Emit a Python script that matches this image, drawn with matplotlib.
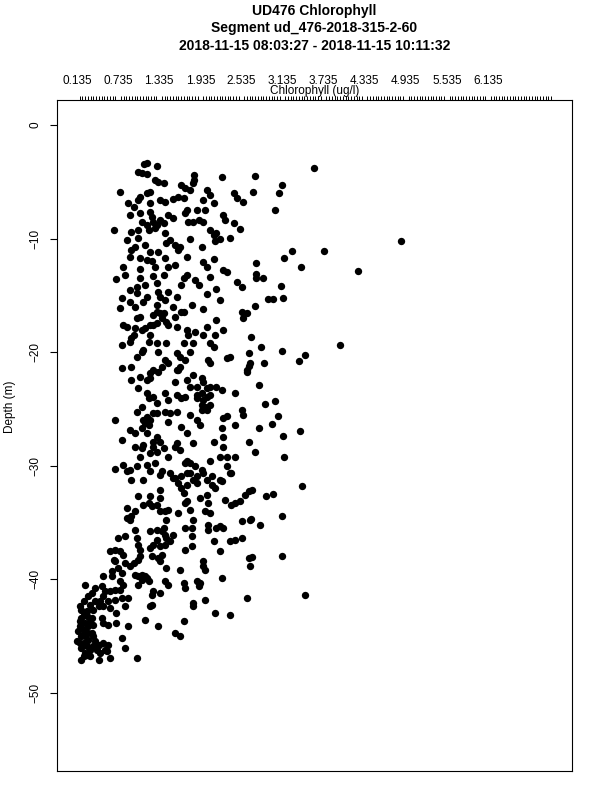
import numpy as np
import matplotlib
matplotlib.use("Agg")
import matplotlib.pyplot as plt

plt.rcParams['font.family'] = ['Liberation Sans', 'DejaVu Sans']

title_lines = ["UD476 Chlorophyll",
               "Segment ud_476-2018-315-2-60",
               "2018-11-15 08:03:27 - 2018-11-15 10:11:32"]
x_label = "Chlorophyll (ug/l)"
y_label = "Depth (m)"
x_tick_values = [0.135, 0.735, 1.335, 1.935, 2.535, 3.135, 3.735, 4.335, 4.935, 5.535, 6.135]
y_tick_values = [0, -10, -20, -30, -40, -50]

# chlorophyll (ug/l) and depth (m), in three depth bands
chl_upper = [1.15, 1.12, 1.30, 1.03, 1.09, 1.15, 1.27, 1.32, 1.40, 1.84,
             1.84, 1.83, 2.25, 0.76, 1.20, 1.15, 1.06, 1.66, 1.71, 1.79,
             2.03, 2.08, 2.42, 2.56, 0.88, 1.03, 0.96, 1.20, 1.35, 1.42,
             1.54, 1.61, 1.69, 1.98, 2.13, 1.74, 1.71, 2.00, 2.27, 0.91,
             1.06, 1.20, 1.35, 1.47, 1.54, 1.08, 1.15, 1.25, 1.40, 1.76,
             1.83, 1.91, 1.98, 2.08, 2.17, 2.30, 2.42, 2.52, 0.67, 0.93,
             1.03, 1.18, 1.27, 1.42, 1.79, 1.96, 2.37, 0.86, 1.03, 1.13,
             1.49, 1.57, 1.61, 0.93, 1.20, 1.32, 1.42, 1.74, 1.98, 2.13,
             2.03, 0.81, 0.91, 1.06, 1.15, 1.23, 1.06, 1.25, 1.40, 1.47,
             1.57, 1.69, 1.74, 1.86, 2.08, 2.27, 2.47, 2.54, 0.71, 0.84,
             1.01, 1.06, 1.13, 1.30, 1.32, 1.47, 1.66, 1.91, 2.03, 2.17,
             2.22, 0.79, 0.91, 1.01, 1.15, 1.35, 1.42, 1.59, 1.81, 1.98,
             0.76, 0.98, 1.30, 1.35, 1.54, 1.66, 2.54,
             1.23, 1.30, 1.64, 1.10, 2.13, 1.44, 0.98, 1.27, 0.91, 1.88,
             2.47, 2.22, 2.15, 2.32,
             3.60, 2.73, 3.12, 3.08, 2.70, 3.03, 4.86, 3.27, 3.74, 3.15,
             3.41, 4.23, 2.75, 2.75, 2.85, 2.75, 3.11, 2.93, 2.99, 3.14,
             2.73]
depth_upper = [-3.37, -3.43, -3.61, -4.11, -4.20, -4.31, -4.84, -4.99, -5.08, -4.40,
               -4.84, -5.13, -4.55, -5.93, -5.87, -6.01, -6.31, -5.28, -5.57, -5.72,
               -5.72, -6.16, -6.01, -6.75, -6.89, -6.60, -7.19, -6.89, -6.60, -6.75,
               -6.54, -6.31, -6.45, -6.60, -6.89, -7.48, -7.77, -7.48, -7.92, -7.92,
               -7.77, -7.63, -8.36, -7.92, -8.21, -8.51, -8.80, -8.51, -8.65, -8.51,
               -8.51, -8.36, -8.51, -9.24, -9.54, -8.36, -8.65, -9.18, -9.24, -9.39,
               -9.24, -9.24, -9.09, -9.54, -10.06, -10.77, -9.98, -10.12, -9.98, -10.56,
               -10.12, -10.56, -11.00, -11.00, -11.15, -11.15, -11.74, -11.59, -12.03, -11.82,
               -12.47, -12.47, -11.59, -11.74, -11.88, -11.94, -12.70, -13.29, -13.20, -12.47,
               -12.32, -13.50, -13.20, -13.64, -13.41, -12.76, -13.79, -14.23, -13.58, -13.20,
               -14.23, -13.50, -14.08, -13.94, -14.67, -14.67, -14.08, -14.08, -14.87, -14.46,
               -15.40, -15.26, -15.55, -14.82, -15.11, -15.11, -15.40, -15.11, -15.84, -16.22,
               -16.14, -15.99, -15.84, -16.58, -15.99, -16.43, -16.43,
               -8.07, -8.80, -10.71, -15.55, -9.68, -10.42, -10.71, -12.47, -14.52, -7.48,
               -6.45, -10.06, -10.18, -12.91,
               -3.75, -4.46, -5.28, -5.96, -5.90, -7.45, -10.21, -11.06, -11.06, -11.68,
               -12.47, -12.82, -12.20, -13.11, -13.47, -13.50, -14.20, -15.37, -15.37, -15.23,
               -15.90]

chl_mid = [0.79, 0.93, 0.91, 0.96, 0.81, 0.86, 1.01, 1.06, 0.98, 1.08,
           1.20, 1.30, 1.25, 1.30, 1.40, 1.37, 1.44, 1.47, 1.57, 1.59,
           1.69, 1.74, 1.76, 1.86, 1.98, 2.03, 2.17, 2.27, 2.15, 2.56,
           2.61, 1.10, 1.18, 1.30, 1.20, 1.44, 1.08, 1.01, 1.32, 1.42,
           1.47, 1.37, 1.25, 1.32, 1.20, 1.15, 1.06, 1.03, 0.93, 0.79,
           0.93, 1.59, 1.64, 1.71, 1.64, 1.59, 1.69, 1.79, 1.83, 2.08,
           2.13, 2.05, 2.08, 2.32, 2.37, 2.61, 2.66, 1.57, 1.74, 1.83,
           1.88, 1.96, 1.98, 2.03, 2.08, 2.17, 2.25, 2.44, 1.79, 1.15,
           1.18, 1.25, 1.30, 1.42, 1.47, 1.59, 1.66, 1.71, 1.88, 1.96,
           1.98, 2.00, 2.03, 2.08, 1.96, 2.08, 0.69, 1.01, 1.08, 1.15,
           1.20, 1.25, 1.30, 1.42, 1.49, 1.59, 1.47, 1.79, 1.88, 1.93,
           1.66, 1.74, 1.83, 2.27, 2.32, 2.44, 2.54, 2.56, 0.91, 0.98,
           1.08, 1.13, 1.18, 1.15, 1.30, 1.35, 0.79, 0.98, 1.10, 1.08,
           1.06, 1.20, 1.25, 1.30, 1.40, 1.47, 1.57, 1.64, 1.59, 1.74,
           1.79, 1.86, 1.96, 2.08, 2.22, 2.27, 2.27, 2.25, 2.32, 2.44,
           2.32, 2.39, 2.13, 2.64, 0.69, 0.81, 0.91, 1.01, 1.15, 1.20,
           1.27, 1.37, 1.49, 1.57, 1.66, 1.74, 1.88, 1.98, 2.10, 2.22,
           1.20, 1.88, 1.96, 1.10, 1.25, 1.71, 1.13, 1.25, 1.61, 2.03,
           2.67, 2.82, 2.64, 2.86, 2.64, 2.61, 3.12, 3.38, 3.46, 3.98,
           2.79, 2.88, 3.03, 3.07, 2.79, 2.98, 3.39, 3.14, 2.73, 3.16]
depth_mid = [-19.37, -18.78, -19.08, -18.49, -17.61, -17.76, -17.02, -16.88, -17.90, -18.05,
             -17.61, -17.46, -16.73, -16.44, -16.58, -17.02, -17.32, -17.61, -16.88, -17.76,
             -16.44, -18.05, -18.49, -18.20, -18.49, -17.76, -17.17, -18.05, -18.49, -17.02,
             -16.58, -19.81, -19.08, -19.22, -18.49, -19.22, -19.96, -20.40, -19.96, -20.69,
             -20.98, -21.28, -21.57, -21.72, -22.30, -22.45, -22.16, -23.18, -22.45, -21.42,
             -21.28, -20.10, -20.40, -20.69, -21.28, -21.57, -19.22, -19.96, -19.22, -19.22,
             -19.52, -20.69, -20.98, -20.54, -20.40, -21.57, -20.98, -22.60, -22.45, -22.01,
             -23.04, -22.30, -22.60, -23.18, -23.04, -23.04, -23.33, -23.63, -23.04, -23.63,
             -24.07, -23.92, -24.51, -23.63, -24.21, -23.77, -24.07, -23.92, -23.77, -23.63,
             -24.21, -24.80, -25.09, -24.65, -25.09, -23.77, -25.97, -25.24, -24.80, -25.68,
             -25.97, -25.39, -25.39, -25.24, -25.39, -25.24, -26.12, -25.53, -25.97, -26.41,
             -26.56, -27.15, -28.03, -25.83, -25.62, -26.41, -25.09, -25.53, -26.85, -27.15,
             -26.71, -26.27, -26.41, -27.15, -27.44, -27.88, -27.73, -28.32, -28.17, -28.47,
             -29.20, -28.91, -28.32, -28.76, -28.47, -29.20, -28.32, -28.61, -28.03, -29.64,
             -29.79, -30.08, -30.37, -29.64, -29.20, -28.32, -27.44, -26.71, -29.20, -29.20,
             -30.08, -30.67, -27.88, -27.88, -30.31, -29.93, -30.37, -30.08, -29.93, -30.52,
             -29.79, -30.52, -30.67, -31.11, -30.96, -30.67, -30.96, -30.67, -30.96, -31.25,
             -21.86, -24.07, -24.65, -25.97, -27.88, -29.79, -17.90, -17.61, -21.57, -23.92,
             -18.64, -19.58, -20.10, -20.98, -21.22, -21.72, -19.87, -20.75, -20.22, -19.37,
             -22.92, -24.56, -24.27, -25.62, -26.71, -26.38, -26.91, -27.41, -28.76, -29.23]

chl_lower = [0.86, 0.93, 1.10, 1.35, 1.54, 1.61, 1.66, 1.69, 1.74, 1.79,
             1.83, 1.88, 2.03, 2.10, 2.15, 2.25, 2.37, 1.03, 1.10, 1.18,
             1.20, 1.35, 1.35, 1.23, 1.30, 1.35, 1.42, 1.47, 1.44, 1.61,
             1.71, 1.74, 1.79, 1.93, 2.03, 2.00, 2.08, 2.05, 2.30, 2.39,
             2.44, 2.52, 2.59, 2.64, 0.86, 0.98, 0.93, 0.87, 0.91, 0.98,
             1.01, 0.84, 0.74, 1.20, 1.30, 1.40, 1.37, 1.42, 1.44, 1.49,
             1.54, 1.30, 1.25, 1.35, 1.20, 1.42, 1.71, 1.81, 1.81, 1.83,
             1.71, 1.81, 2.05, 2.05, 2.17, 2.22, 2.27, 2.13, 2.22, 2.37,
             2.44, 2.54, 2.54, 2.66, 0.62, 0.69, 0.76, 0.81, 1.03, 1.06,
             1.06, 1.03, 0.96, 0.91, 0.84, 0.74, 0.69, 0.67, 1.23, 1.32,
             1.37, 1.35, 1.44, 1.64, 1.98, 1.98, 2.00, 2.64, 2.66, 2.25,
             0.52, 0.64, 0.64, 0.79, 0.76, 0.81, 0.98, 1.03, 1.08, 1.15,
             1.18, 1.03, 1.25, 1.23, 1.35, 1.42, 1.47, 1.69, 1.71, 1.88,
             1.91, 1.93, 1.83, 1.83, 2.00, 2.15, 2.37, 2.61, 0.25, 0.40,
             0.50, 0.52, 0.54, 0.62, 0.69, 0.76, 0.79, 0.69, 0.59, 0.47,
             0.35, 0.30, 0.23, 0.18, 0.33, 0.37, 0.52, 0.62, 0.71, 0.84,
             0.88, 1.20, 1.23, 1.13, 1.32, 1.69, 1.57, 1.64, 0.23, 0.20,
             0.28, 0.35, 0.25, 0.18, 0.23, 0.30, 0.37, 0.35, 0.20, 0.13,
             0.23, 0.30, 0.40, 0.45, 0.52, 0.59, 0.54, 0.47, 0.45, 0.62,
             0.57, 0.33, 0.25, 0.20, 0.28, 0.50, 0.52, 0.59, 0.71, 0.88,
             0.79, 0.84, 1.01, 0.37, 0.25,
             0.20, 0.28, 0.18, 0.25, 0.18, 0.28, 0.20, 0.33, 0.23, 0.42,
             0.30, 0.37, 0.15, 0.33, 0.40, 0.45, 1.13, 1.08,
             3.42, 2.90, 2.99, 2.69, 3.12, 2.67, 2.81, 2.69, 3.13, 3.46]
depth_lower = [-30.52, -31.25, -31.25, -30.81, -31.10, -31.54, -31.98, -32.42, -31.69, -30.66,
               -31.25, -31.54, -31.25, -31.69, -31.98, -31.40, -30.66, -32.72, -33.45, -33.30,
               -32.72, -32.13, -32.86, -33.60, -33.45, -34.04, -34.04, -33.89, -34.77, -34.18,
               -33.30, -33.16, -33.89, -32.86, -32.57, -34.04, -34.18, -33.30, -33.01, -33.45,
               -33.30, -33.16, -32.57, -32.28, -33.74, -34.04, -34.48, -34.62, -34.77, -35.65,
               -36.38, -36.24, -36.38, -35.80, -35.65, -35.50, -35.80, -36.09, -36.38, -36.68,
               -36.09, -36.53, -36.97, -37.12, -37.26, -36.97, -35.50, -35.50, -36.24, -34.77,
               -37.41, -37.12, -35.21, -35.65, -35.50, -35.36, -35.50, -36.68, -37.56, -36.68,
               -36.53, -36.38, -34.92, -34.77, -37.56, -37.41, -37.56, -37.85, -36.97, -37.41,
               -38.00, -38.29, -38.58, -38.88, -38.58, -39.02, -38.44, -38.29, -38.00, -38.14,
               -37.85, -38.44, -39.02, -39.17, -38.44, -38.88, -39.17, -38.14, -38.88, -39.91,
               -39.76, -39.32, -39.76, -39.47, -40.20, -40.49, -39.61, -39.76, -40.05, -39.91,
               -40.20, -40.49, -41.08, -41.37, -41.23, -40.20, -40.49, -40.35, -40.79, -40.20,
               -40.64, -40.35, -42.11, -42.40, -41.81, -42.99, -43.13, -41.67, -40.49, -40.79,
               -40.64, -41.52, -41.08, -41.08, -40.93, -40.93, -41.67, -41.81, -41.96, -41.96,
               -41.23, -41.52, -41.96, -42.40, -42.25, -42.69, -42.40, -42.55, -42.99, -42.40,
               -41.67, -42.40, -42.25, -43.57, -44.16, -43.72, -44.75, -45.04, -42.99, -43.43,
               -43.28, -43.43, -43.87, -44.16, -44.45, -44.16, -44.01, -44.75, -45.04, -45.48,
               -45.63, -45.33, -45.48, -45.77, -45.63, -45.77, -46.21, -46.51, -47.09, -46.95,
               -46.36, -46.21, -46.51, -47.09, -46.65, -43.43, -43.87, -44.01, -43.87, -44.16,
               -45.19, -46.07, -46.95, -45.04, -45.04,
               -42.69, -42.84, -43.72, -44.75, -45.63, -45.92, -46.07, -46.80, -46.80, -46.21,
               -44.75, -45.92, -44.60, -43.72, -41.96, -42.40, -39.76, -39.61,
               -31.84, -32.72, -32.51, -32.19, -34.42, -34.71, -35.27, -38.06, -37.94, -41.37]

chl = np.array(chl_upper + chl_mid + chl_lower)
depth = np.array(depth_upper + depth_mid + depth_lower)

fig = plt.figure(figsize=(6, 8), dpi=100)
ax = fig.add_axes([0.095, 0.03625, 0.8583, 0.83875])

ax.scatter(chl, depth, s=28, c='black', linewidths=0)

ax.set_xlim(-0.157, 7.36)
ax.set_ylim(-56.9, 2.2)

# chlorophyll axis along the top
ax.xaxis.tick_top()
ax.set_xticks(x_tick_values)
ax.set_xticklabels([f"{v:.3f}" for v in x_tick_values])
ax.set_xticks(np.arange(0.135, 7.07, 0.04), minor=True)
ax.tick_params(axis='x', which='major', length=0, pad=9.5, labelsize=8.5)
ax.tick_params(axis='x', which='minor', length=3, width=0.7)

ax.set_yticks(y_tick_values)
ax.set_yticklabels([str(v).replace('-', '\u2212') for v in y_tick_values],
                   rotation=90, va='center')
ax.tick_params(axis='y', length=5, width=0.8, pad=6, labelsize=8.5)

for sp in ax.spines.values():
    sp.set_linewidth(0.8)

cx = 0.524
for i, line in enumerate(title_lines):
    fig.text(cx, 0.986 - i * 0.0215, line, ha='center', va='center',
             fontsize=10, fontweight='bold')
fig.text(cx, 0.886, x_label, ha='center', va='center', fontsize=8.5)
fig.text(0.017, 0.491, y_label, ha='center', va='center', rotation=90, fontsize=8.5)

fig.savefig("out.png", dpi=100)
